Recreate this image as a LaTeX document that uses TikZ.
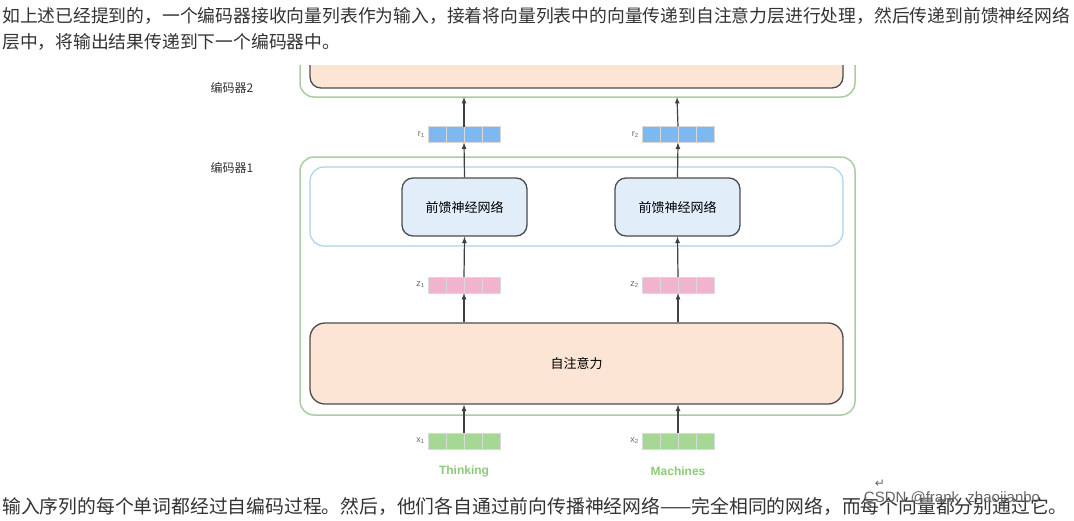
\documentclass[tikz,border=0pt]{standalone}
\usepackage{fontspec}
\setmainfont{Liberation Sans}
\newfontfamily\cjk{Noto Sans CJK SC}
\newfontfamily\dejavu{DejaVu Sans}
\definecolor{encg}{HTML}{A9CFA0}
\definecolor{peach}{HTML}{FCE5D4}
\definecolor{ffnb}{HTML}{E1EDF9}
\definecolor{lblue}{HTML}{A9D2EE}
\definecolor{vblue}{HTML}{7DB8F0}
\definecolor{vpink}{HTML}{F2B3CF}
\definecolor{vgreen}{HTML}{A5D894}
\definecolor{wgreen}{HTML}{8CCB7A}
\definecolor{txt}{HTML}{333333}
\begin{document}
\begin{tikzpicture}[x=1pt,y=-1pt,
  body/.style={anchor=west,inner sep=0pt,font=\cjk\fontsize{17.8}{22}\selectfont,text=txt},
  lab/.style={inner sep=0pt,font=\cjk\fontsize{12}{14}\selectfont,text=txt},
  enc/.style={draw=encg,line width=1.5pt,rounded corners=14pt},
  ffn/.style={draw=black!70,line width=1.3pt,fill=ffnb,rounded corners=11pt,inner sep=0pt},
  arr/.style={-latex,line width=1.2pt,black!75},
  cell/.style={draw=white!85!black,line width=0.6pt,minimum width=18pt,minimum height=16pt,inner sep=0pt},
  vlab/.style={inner sep=0pt,font=\fontsize{9}{10}\selectfont,text=black!60}]
\useasboundingbox (0,0) rectangle (1074,520);
\fill[white] (0,0) rectangle (1074,520);
\node[body] (t1) at (2,16) {如上述已经提到的，一个编码器接收向量列表作为输入，接着将向量列表中的向量传递到自注意力层进行处理，然后传递到前馈神经网络};
\node[body] (t2) at (2,42) {层中，将输出结果传递到下一个编码器中。};
\begin{scope}
\clip (0,65) rectangle (1074,520);
\draw[enc] (300,30) rectangle (855,97);
\draw[line width=1.3pt,draw=black!70,fill=peach,rounded corners=11pt] (310,20) rectangle (843,88);
\end{scope}
\coordinate (e2b1) at (464,97);
\coordinate (e2b2) at (677,97);
\node[lab] (l2) at (232,88) {编码器2};
\node[lab] (l1) at (232,168) {编码器1};
\draw[enc] (300,157) rectangle (855,415);
\draw[draw=lblue,line width=1.2pt,rounded corners=14pt] (310,167) rectangle (843,246);
\node[ffn,minimum width=125pt,minimum height=58pt] (f1) at (464.5,207) {\cjk\fontsize{13}{15}\selectfont 前馈神经网络};
\node[ffn,minimum width=125pt,minimum height=58pt] (f2) at (677.5,207) {\cjk\fontsize{13}{15}\selectfont 前馈神经网络};
\node[draw=black!70,line width=1.3pt,fill=peach,rounded corners=15pt,minimum width=533pt,minimum height=81pt,inner sep=0pt] (sa) at (576.5,363.5) {\cjk\fontsize{13}{15}\selectfont 自注意力};
\foreach \nm/\cx/\cy/\col/\lb/\n in {r1/437/134.5/vblue/r/1, r2/651/134.5/vblue/r/2, z1/437/285/vpink/z/1, z2/651/285/vpink/z/2, x1/437/441/vgreen/x/1, x2/651/441/vgreen/x/2}{
  \foreach \k in {0,1,2,3}{
    \node[cell,fill=\col] (\nm c\k) at ({\cx+18*\k},\cy) {};
  }
  \node[vlab,anchor=east] (\nm l) at ({\cx-12},\cy) {\lb\textsubscript{\n}};
}
\coordinate (r1b) at (464,142.5); \coordinate (r1t) at (464,126.5);
\coordinate (r2b) at (678,142.5); \coordinate (r2t) at (678,126.5);
\coordinate (z1b) at (464,293); \coordinate (z1t) at (464,277);
\coordinate (z2b) at (678,293); \coordinate (z2t) at (678,277);
\coordinate (x1t) at (464,433); \coordinate (x2t) at (678,433);
\draw[arr] (r1t) -- (e2b1);
\draw[arr] (r2t) -- (e2b2);
\draw[arr] (f1.north) -- (r1b);
\draw[arr] (f2.north) -- (r2b);
\draw[arr] (z1t) -- (f1.south);
\draw[arr] (z2t) -- (f2.south);
\draw[arr] (sa.north -| z1b) -- (z1b);
\draw[arr] (sa.north -| z2b) -- (z2b);
\draw[arr] (x1t) -- (sa.south -| x1t);
\draw[arr] (x2t) -- (sa.south -| x2t);
\node[inner sep=0pt,font=\bfseries\fontsize{12}{14}\selectfont,text=wgreen] (w1) at (464,471) {Thinking};
\node[inner sep=0pt,font=\bfseries\fontsize{12}{14}\selectfont,text=wgreen] (w2) at (678,471) {Machines};
\node[body,font=\cjk\fontsize{18.8}{22}\selectfont] (t3) at (2,506) {输入序列的每个单词都经过自编码过程。然后，他们各自通过前向传播神经网络——完全相同的网络，而每个向量都分别通过它。};
\node[inner sep=0pt,font=\fontsize{15}{16}\selectfont,text=black!60] (wm) at (952,499) {CSDN @frank\_zhaojianbo};
\node[inner sep=0pt,font=\dejavu\fontsize{12}{12}\selectfont,text=black!60] (ret) at (880,484) {↵};
\end{tikzpicture}
\end{document}
